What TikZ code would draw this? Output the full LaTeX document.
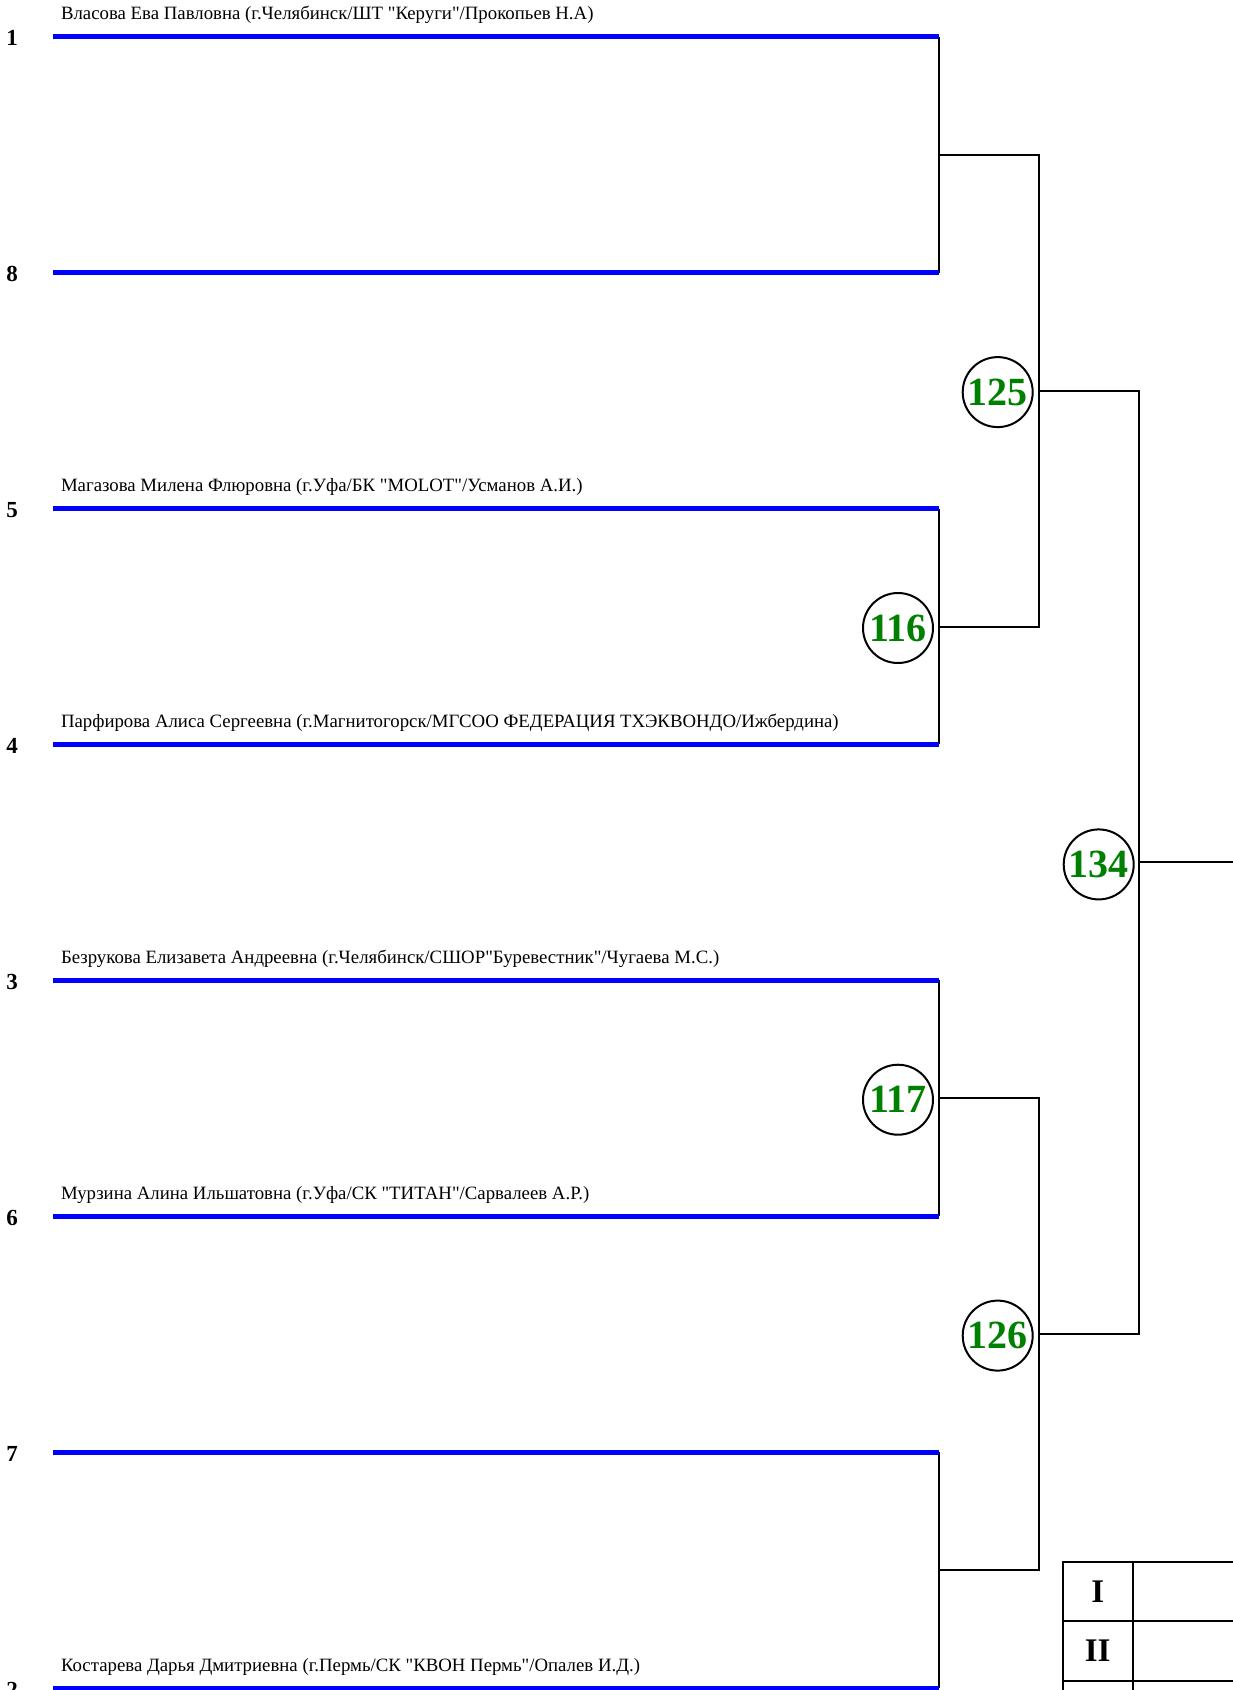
\documentclass[tikz,border=0pt]{standalone}
\usepackage{fontspec}
\setmainfont{Liberation Serif}
\newfontfamily\namefont{Liberation Serif}
\usepackage{xcolor}
\usetikzlibrary{positioning}
\definecolor{boutgreen}{RGB}{0,128,0}

\begin{document}
\begin{tikzpicture}[x=1pt, y=-1pt, line width=2pt,
  blueline/.style={draw=blue, line width=5pt},
  seed/.style={font=\fontsize{23}{26}\selectfont\bfseries, inner sep=0pt},
  player/.style={font=\namefont\fontsize{18.8}{22}\selectfont, anchor=base west, inner sep=0pt},
  bout/.style={draw, circle, line width=2pt, minimum size=70pt, inner sep=0pt, text=boutgreen, font=\fontsize{40}{44}\selectfont\bfseries},
  rankcell/.style={font=\fontsize{33}{36}\selectfont\bfseries, inner sep=0pt}]

\useasboundingbox (0,0) rectangle (1233,1690);

% seeds and blue lines
\node[seed] (n1) at (12,38.2) {1};
\node[seed] (n8) at (12,274.1) {8};
\node[seed] (n5) at (12,510) {5};
\node[seed] (n4) at (12,745.9) {4};
\node[seed] (n3) at (12,981.8) {3};
\node[seed] (n6) at (12,1217.7) {6};
\node[seed] (n7) at (12,1453.6) {7};
\node[seed] (n2) at (12,1689.5) {2};

\coordinate (a1) at (53,36.7);   \coordinate (b1) at (939,36.7);
\coordinate (a8) at (53,272.6);  \coordinate (b8) at (939,272.6);
\coordinate (a5) at (53,508.5);  \coordinate (b5) at (939,508.5);
\coordinate (a4) at (53,744.4);  \coordinate (b4) at (939,744.4);
\coordinate (a3) at (53,980.3);  \coordinate (b3) at (939,980.3);
\coordinate (a6) at (53,1216.2); \coordinate (b6) at (939,1216.2);
\coordinate (a7) at (53,1452.1); \coordinate (b7) at (939,1452.1);
\coordinate (a2) at (53,1688);   \coordinate (b2) at (939,1688);

\node[player] (l1) at (60,19.7) {Власова Ева Павловна (г.Челябинск/ШТ "Керуги"/Прокопьев Н.А)};
\node[player] (l5) at (60,491.5) {Магазова Милена Флюровна (г.Уфа/БК "MOLOT"/Усманов А.И.)};
\node[player] (l4) at (60,727.4) {Парфирова Алиса Сергеевна (г.Магнитогорск/МГСОО ФЕДЕРАЦИЯ ТХЭКВОНДО/Ижбердина)};
\node[player] (l3) at (60,963.3) {Безрукова Елизавета Андреевна (г.Челябинск/СШОР"Буревестник"/Чугаева М.С.)};
\node[player] (l6) at (60,1199.2) {Мурзина Алина Ильшатовна (г.Уфа/СК "ТИТАН"/Сарвалеев А.Р.)};
\node[player] (l2) at (60,1671) {Костарева Дарья Дмитриевна (г.Пермь/СК "КВОН Пермь"/Опалев И.Д.)};

\draw (b1) -- (b8);
\draw (b5) -- (b4);
\draw (b3) -- (b6);
\draw (b7) -- (b2);
\draw[blueline] (a1) -- (b1);
\draw[blueline] (a8) -- (b8);
\draw[blueline] (a5) -- (b5);
\draw[blueline] (a4) -- (b4);
\draw[blueline] (a3) -- (b3);
\draw[blueline] (a6) -- (b6);
\draw[blueline] (a7) -- (b7);
\draw[blueline] (a2) -- (b2);

% bracket junctions
\coordinate (q1) at (939,154.7);  \coordinate (s1) at (1038.7,154.7);
\coordinate (q2) at (939,626.5);  \coordinate (s2) at (1038.7,626.5);
\coordinate (q3) at (939,1098.2); \coordinate (s3) at (1038.7,1098.2);
\coordinate (q4) at (939,1570);   \coordinate (s4) at (1038.7,1570);
\coordinate (t1) at (1038.7,390.6);  \coordinate (u1) at (1138.7,390.6);
\coordinate (t2) at (1038.7,1334.1); \coordinate (u2) at (1138.7,1334.1);
\coordinate (v) at (1138.7,862.4);   \coordinate (w) at (1233,862.4);

\draw (q1) -- (s1) -- (s2) -- (q2);
\draw (q3) -- (s3) -- (s4) -- (q4);
\draw (t1) -- (u1) -- (u2) -- (t2);
\draw (v) -- (w);

\node[bout, left=5pt of q2, yshift=-1.5pt] (c116) {116};
\node[bout, left=5pt of q3, yshift=-1.5pt] (c117) {117};
\node[bout, left=5pt of t1, yshift=-1.5pt] (c125) {125};
\node[bout, left=5pt of t2, yshift=-1.5pt] (c126) {126};
\node[bout, left=4pt of v, yshift=-2pt] (c134) {134};

% places table
\draw (1062.7,1690) -- (1062.7,1561.7) -- (1233,1561.7);
\draw (1062.7,1620.7) -- (1233,1620.7);
\draw (1062.7,1680.7) -- (1233,1680.7);
\draw (1132.7,1561.7) -- (1132.7,1690);
\node[rankcell] (r1) at (1097.7,1591.2) {I};
\node[rankcell] (r2) at (1097.7,1650.7) {II};

\end{tikzpicture}
\end{document}
